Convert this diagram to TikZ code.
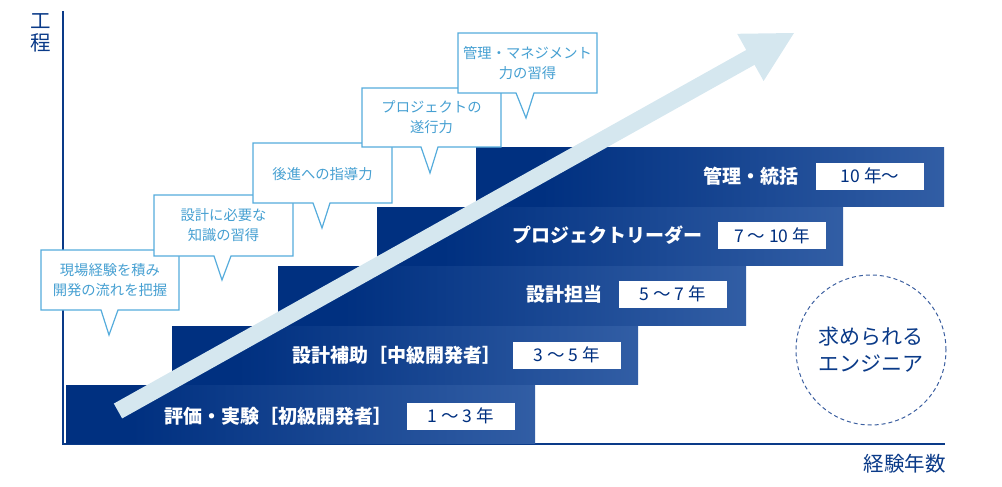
\documentclass[tikz,border=0pt]{standalone}
\usepackage{fontspec}
\setmainfont{Noto Sans CJK JP}
\definecolor{navy}{RGB}{10,58,136}
\definecolor{bdark}{RGB}{0,48,128}
\definecolor{blight}{RGB}{78,120,186}
\definecolor{arrowc}{RGB}{213,231,239}
\definecolor{callb}{RGB}{85,172,220}
\definecolor{callt}{RGB}{70,160,210}
\definecolor{circc}{RGB}{60,95,160}
\pgfdeclarehorizontalshading{barshade}{100bp}{color(0bp)=(bdark); color(32bp)=(bdark); color(100bp)=(blight)}
\tikzset{
  bar/.style={shading=barshade},
  yearbox/.style={fill=white, minimum width=108pt, minimum height=27pt, inner sep=0pt, text=bdark, font=\fontsize{17.5pt}{17.5pt}\selectfont},
  bartext/.style={text=white, font=\fontsize{19pt}{19pt}\selectfont\bfseries, anchor=east, inner sep=0pt},
  callout/.style={fill=white, draw=callb, line width=1.2pt, line join=miter},
  calltext/.style={text=callt, align=center, font=\fontsize{14.3pt}{20pt}\selectfont, inner sep=0pt},
  axislabel/.style={text=navy, font=\fontsize{20.5pt}{22pt}\selectfont, inner sep=0pt}
}
\begin{document}
\begin{tikzpicture}[x=1pt,y=-1pt]
\useasboundingbox (0,0) rectangle (1002,487);
% axes
\coordinate (ytop) at (63,11);
\coordinate (orig) at (63,444);
\coordinate (xend) at (945,444);
\draw[navy, line width=1.5pt] (ytop) -- (orig) -- (xend);
\node[axislabel, align=center] (ylab) at (41,33) {工\\程};
\node[axislabel, anchor=east] (xlab) at (946,464) {経験年数};
% bars
\path[bar] (66,385) rectangle (535,443);
\path[bar] (172,326) rectangle (638,384);
\path[bar] (278,266) rectangle (746,325);
\path[bar] (377,207) rectangle (843,265);
\path[bar] (476,147) rectangle (944,206);
% year boxes and labels
\node[yearbox] (y1) at (461,416) {1 ～ 3 年};
\node[bartext] (t1) at ([xshift=-14pt]y1.west) {評価・実験［初級開発者］};
\node[yearbox] (y2) at (567,355) {3 ～ 5 年};
\node[bartext] (t2) at ([xshift=-11pt]y2.west) {設計補助［中級開発者］};
\node[yearbox] (y3) at (673,294) {5 ～ 7 年};
\node[bartext] (t3) at ([xshift=-16pt]y3.west) {設計担当};
\node[yearbox] (y4) at (772,235.5) {7 ～ 10 年};
\node[bartext] (t4) at ([xshift=-15pt]y4.west) {プロジェクトリーダー};
\node[yearbox] (y5) at (870,176) {10 年～};
\node[bartext] (t5) at ([xshift=-17pt]y5.west) {管理・統括};
% big arrow
\fill[arrowc] (113.85,403.58) -- (746.25,49.98) -- (737.2,33.8) -- (794,33) -- (763.6,81.0) -- (754.55,64.82) -- (122.15,418.42) -- cycle;
% callouts
\draw[callout] (41,250) -- (179,250) -- (179,310) -- (118,310) -- (109,335) -- (101,310) -- (41,310) -- cycle;
\node[calltext] (c1) at (110,280) {現場経験を積み\\開発の流れを把握};
\draw[callout] (154,195) -- (293,195) -- (293,256) -- (231,256) -- (222,280) -- (214,256) -- (154,256) -- cycle;
\node[calltext] (c2) at (223.5,225.5) {設計に必要な\\知識の習得};
\draw[callout] (253,143) -- (392,143) -- (392,203) -- (330,203) -- (322,228) -- (313,203) -- (253,203) -- cycle;
\node[calltext] (c3) at (322.5,174) {後進への指導力};
\draw[callout] (362,88) -- (501,88) -- (501,147) -- (438,147) -- (430,173) -- (421,147) -- (362,147) -- cycle;
\node[calltext] (c4) at (431.5,117.5) {プロジェクトの\\遂行力};
\draw[callout] (458,33) -- (597,33) -- (597,93) -- (534,93) -- (526,118) -- (516,93) -- (458,93) -- cycle;
\node[calltext] (c5) at (527.5,63) {管理・マネジメント\\力の習得};
% circle
\node[circle, draw=circc, dash pattern=on 4pt off 3pt, line width=1pt, minimum size=150pt, inner sep=0pt, text=navy, align=center, font=\fontsize{21pt}{27pt}\selectfont] (eng) at (871,350) {求められる\\エンジニア};
\end{tikzpicture}
\end{document}
